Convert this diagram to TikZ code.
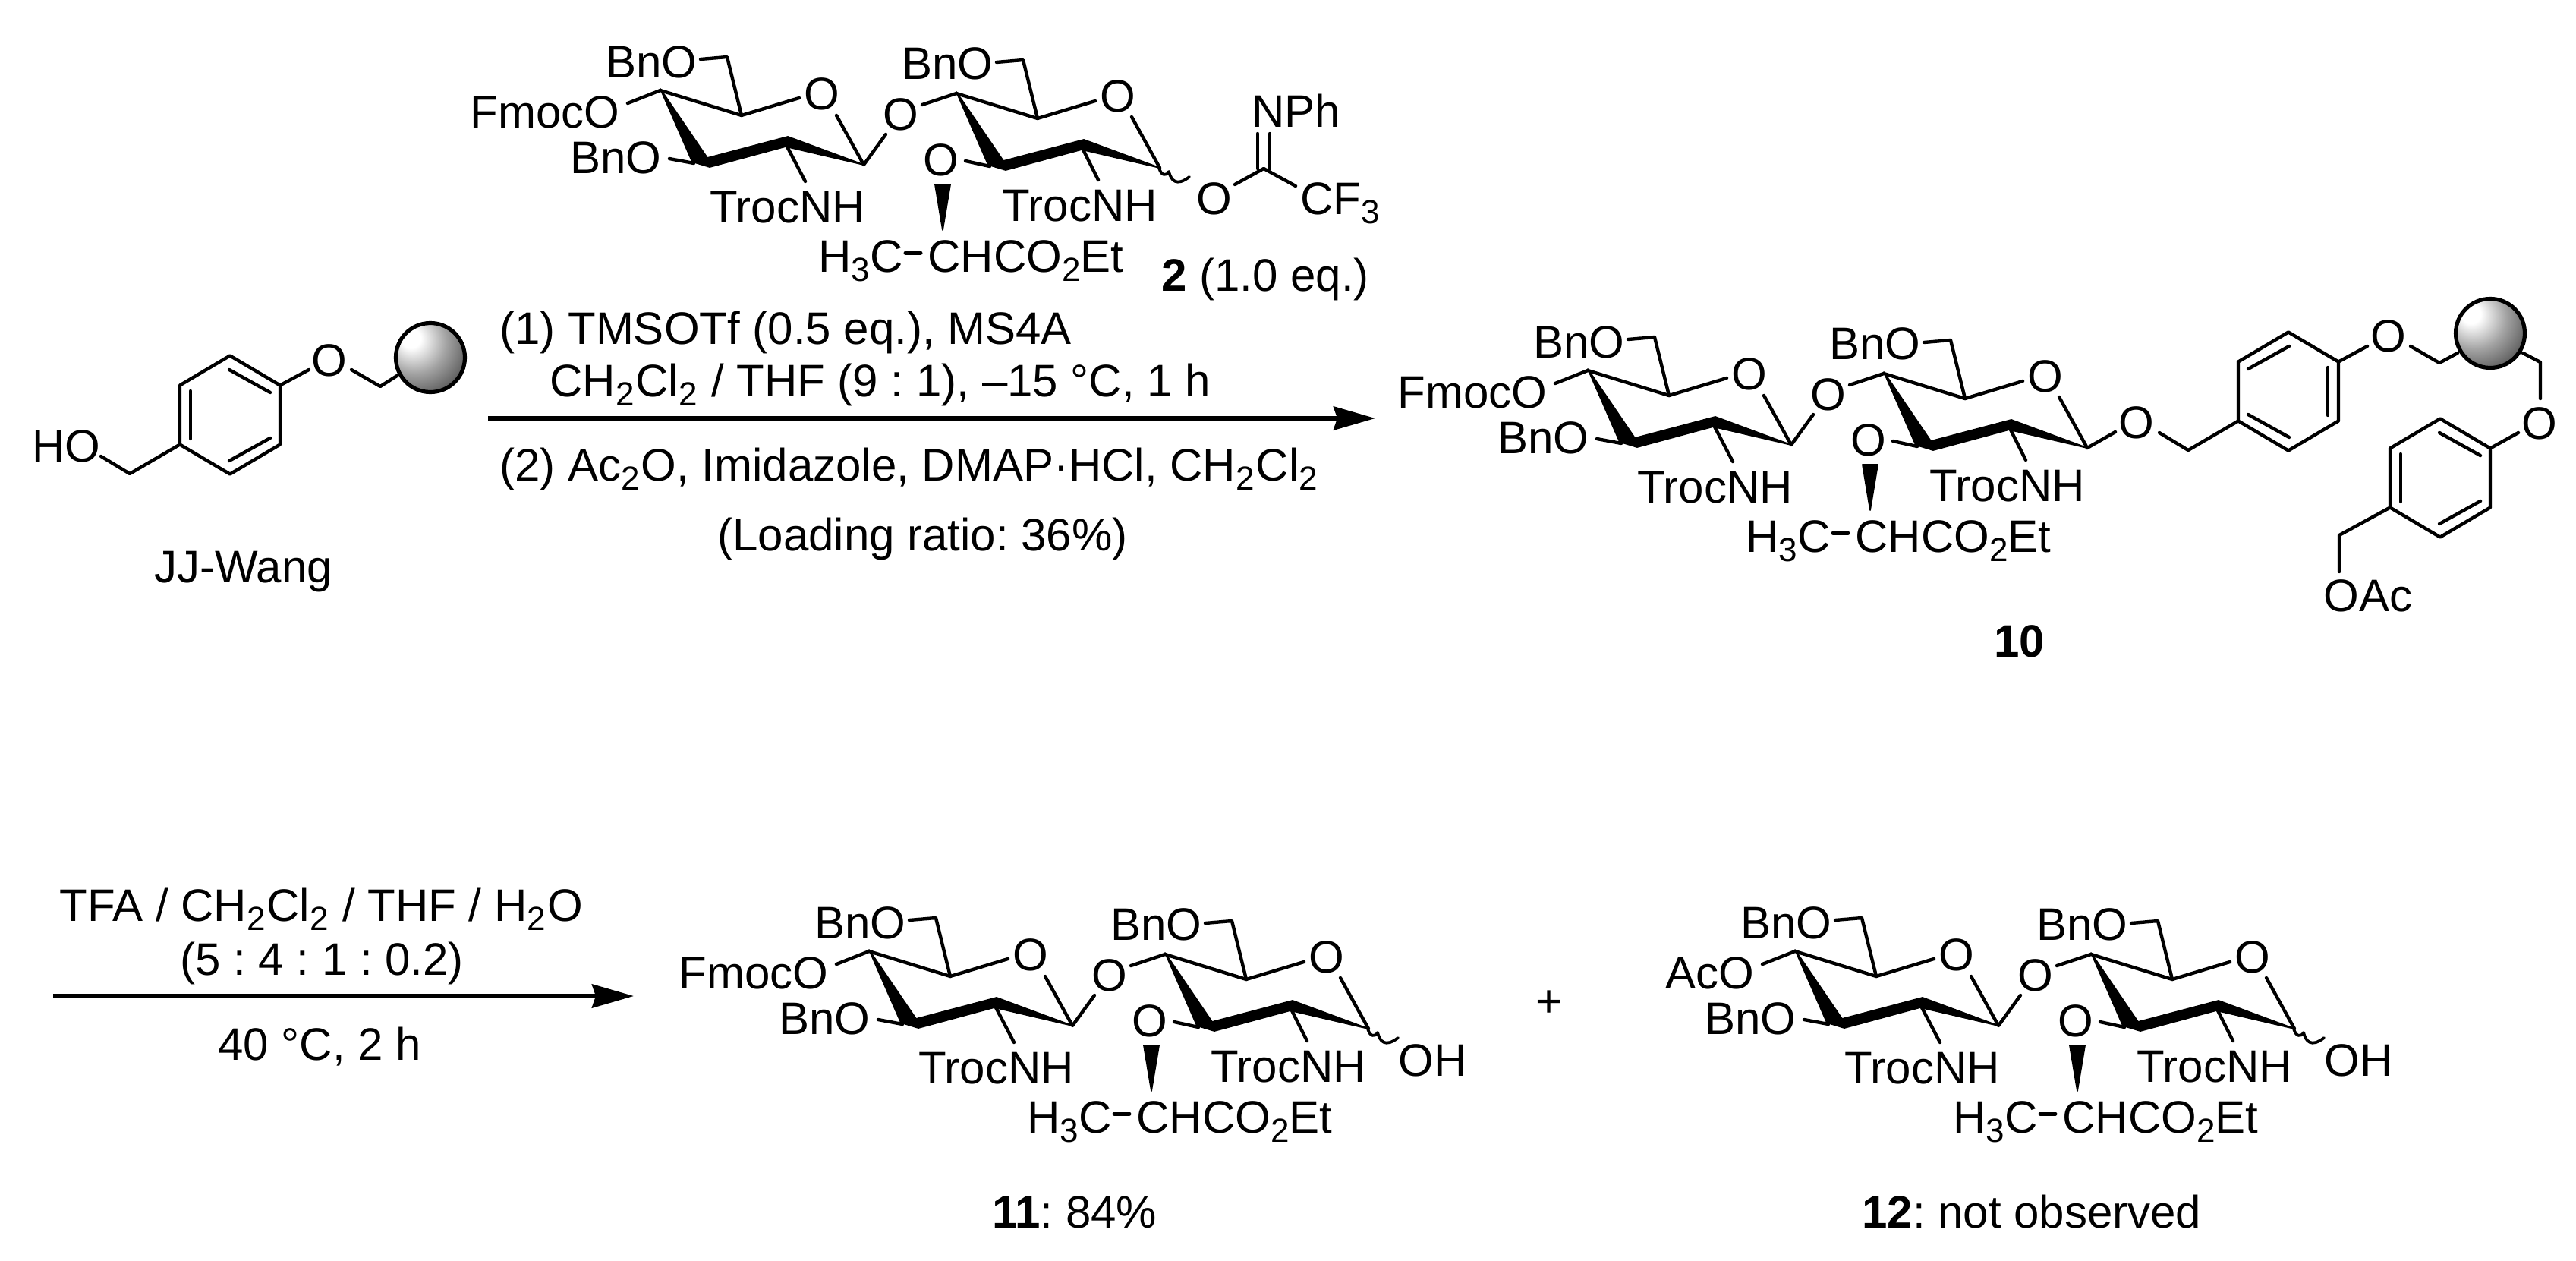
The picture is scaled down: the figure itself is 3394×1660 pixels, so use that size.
\documentclass[tikz,border=0pt]{standalone}
\usepackage{fontspec}
\setmainfont{Liberation Sans}
\usetikzlibrary{arrows.meta}
\newcommand{\fz}{\fontsize{30}{36}\selectfont\frenchspacing}
\newcommand{\sbs}[1]{\raisebox{-6pt}{\fontsize{22}{26}\selectfont #1}}
\newcommand{\sbr}[1]{\sbs{#1}\kern1.0pt\relax}
\pgfdeclareradialshading{bead}{\pgfpoint{-15bp}{15bp}}{color(0bp)=(white); color(7bp)=(white); color(23bp)=(black!36); color(36bp)=(black!60); color(52bp)=(black!90); color(66bp)=(black); color(100bp)=(black)}
\tikzset{
  txt/.style={inner sep=0pt,anchor=base west,font=\fz,text=black},
  txtc/.style={inner sep=0pt,anchor=base,font=\fz,text=black},
  txte/.style={inner sep=0pt,anchor=base east,font=\fz,text=black},
  bond/.style={draw=black,line width=2.2pt,line cap=round,line join=round},
  wedge/.style={fill=black,draw=black,line width=0.9pt,line join=round},
  rxn/.style={draw=black,line width=2.8pt,-{Stealth[length=27.5pt,width=15.5pt,inset=2.5pt]}},
  bead/.style={circle,draw=black,line width=2.6pt,shading=bead,minimum size=45.5pt,inner sep=0pt}
}
% disaccharide: x shift, y shift, prefix, group at C4
\newcommand{\glycan}[4]{%
\begin{scope}[shift={(#1,#2)}]
\coordinate (#3C4) at (870,119);
\coordinate (#3C5) at (977,152);
\coordinate (#3C6) at (958,75);
\coordinate (#3C1) at (1138,217);
\coordinate (#3L4) at (827,136);
\coordinate (#3L6) at (923,78);
\coordinate (#3LO) at (1053,129);
\coordinate (#3RO) at (1102,152);
\coordinate (#3G1) at (1167,177);
\coordinate (#3G2) at (1215,138);
\coordinate (#3N1a) at (1037,193);
\coordinate (#3N1b) at (1061,239);
\coordinate (#3B3a) at (914,215);
\coordinate (#3B3b) at (882,209);
\coordinate (#3Dc) at (1260,123);
\coordinate (#3De) at (1367,156);
\coordinate (#3Df) at (1348,79);
\coordinate (#3Dg) at (1313,82);
\coordinate (#3Dh) at (1443,133);
\coordinate (#3Di) at (1491,154);
\coordinate (#3Dj) at (1528,221);
\coordinate (#3Dk) at (1304,219);
\coordinate (#3Dl) at (1272,212);
\coordinate (#3Dm) at (1427,197);
\coordinate (#3Dn) at (1447,237);
\coordinate (#3Dd1) at (1193,333);
\coordinate (#3Dd2) at (1213,333);
\node[txt] (#3bn6) at (798,102) {BnO};
\node[txte] (#3g4) at (817,168) {#4};
\node[txte] (#3bn3) at (872,228) {BnO};
\node[txtc] (#3ox) at (1083,144) {O};
\node[txtc] (#3og) at (1187,171) {O};
\node[txt] (#3tr) at (935,293) {TrocNH};
\node[txt] (#3bn6b) at (1188,104) {BnO};
\node[txtc] (#3oxb) at (1473,147) {O};
\node[txtc] (#3o3) at (1240,231) {O};
\node[txt] (#3trb) at (1320,291) {TrocNH};
\node[txt] (#3hc) at (1078,358) {H\sbs{3}C};
\node[txt] (#3ch) at (1222,358) {CHCO\sbs{2}Et};
\draw[bond] (#3L4) -- (#3C4) -- (#3C5) -- (#3LO);
\draw[bond] (#3L6) -- (#3C6) -- (#3C5);
\draw[bond] (#3RO) -- (#3C1) -- (#3G1);
\draw[bond] (#3G2) -- (#3Dc) -- (#3De) -- (#3Dh);
\draw[bond] (#3Dg) -- (#3Df) -- (#3De);
\draw[bond] (#3Di) -- (#3Dj);
\draw[bond] (#3N1a) -- (#3N1b);
\draw[bond] (#3Dm) -- (#3Dn);
\draw[bond] (#3B3a) -- (#3B3b);
\draw[bond] (#3Dk) -- (#3Dl);
\draw[bond,line width=2.5pt] (#3Dd1) -- (#3Dd2);
\fill[wedge] (870,117) -- (932,208) -- (1038,180) -- (1138,217) -- (1035,193) -- (935,220) -- (912,213) -- cycle;
\fill[wedge] (1260,121) -- (1322,212) -- (1428,184) -- (1528,221) -- (1425,197) -- (1325,224) -- (1302,217) -- cycle;
\fill[wedge] (1232,243) -- (1252,243) -- (1242,303) -- cycle;
\end{scope}}
% wavy bond
\newcommand{\wavy}[2]{\begin{scope}[shift={(#1,#2)}]
\draw[bond,line width=1.9pt] (1527,221) .. controls (1530,232) and (1537,232) .. (1540,226) .. controls (1543,238) and (1550,246) .. (1567,233);
\end{scope}}
% benzene, doubles top-right, left, bottom-right
\newcommand{\ringA}[3]{\begin{scope}[shift={(#1,#2)}]
\coordinate (#3p1) at (0,-78); \coordinate (#3p2) at (66,-39); \coordinate (#3p3) at (66,39);
\coordinate (#3p4) at (0,78); \coordinate (#3p5) at (-66,39); \coordinate (#3p6) at (-66,-39);
\draw[bond] (#3p1) -- (#3p2) -- (#3p3) -- (#3p4) -- (#3p5) -- (#3p6) -- cycle;
\draw[bond] (-1,-59.5) -- (53,-29.5);
\draw[bond] (-52,-31.5) -- (-52,31.5);
\draw[bond] (-1,60.5) -- (53,30.5);
\end{scope}}
% benzene, doubles top-left, right, bottom-left
\newcommand{\ringB}[3]{\begin{scope}[shift={(#1,#2)}]
\coordinate (#3p1) at (0,-78); \coordinate (#3p2) at (66,-39); \coordinate (#3p3) at (66,39);
\coordinate (#3p4) at (0,78); \coordinate (#3p5) at (-66,39); \coordinate (#3p6) at (-66,-39);
\draw[bond] (#3p1) -- (#3p2) -- (#3p3) -- (#3p4) -- (#3p5) -- (#3p6) -- cycle;
\draw[bond] (1,-59.5) -- (-53,-29.5);
\draw[bond] (52,-31.5) -- (52,31.5);
\draw[bond] (1,60.5) -- (-53,30.5);
\end{scope}}
\begin{document}
\begin{tikzpicture}[x=0.5pt,y=-0.5pt]
\useasboundingbox (0,0) rectangle (3394,1660);
% JJ-Wang resin
\ringA{303}{546.5}{ra}
\node[txt] (ho) at (42,608) {HO};
\node[txtc] (oa) at (434,495) {O};
\node[txt] (jj) at (203,767) {JJ-Wang};
\coordinate (ha) at (133,601); \coordinate (hb) at (171,624);
\coordinate (oa1) at (407,487); \coordinate (oa2) at (463,487);
\coordinate (oa3) at (501,509); \coordinate (oa4) at (523,495);
\draw[bond] (ha) -- (hb) -- (rap5);
\draw[bond] (rap2) -- (oa1);
\draw[bond] (oa2) -- (oa3) -- (oa4);
\node[bead] (bead1) at (567,471) {};
% donor 2
\glycan{0}{0}{d}{FmocO}
\wavy{0}{0}
\node[txtc] (oi) at (1600,282) {O};
\node[txt] (nph) at (1649,167) {NPh};
\node[txt] (cf) at (1713,282) {CF\sbs{3}};
\node[txt] (lab2) at (1530,383) {\textbf{2} (1.0 eq.)};
\coordinate (ic) at (1665,222); \coordinate (ioe) at (1627,243); \coordinate (ife) at (1707,245);
\coordinate (in1) at (1657,176); \coordinate (in2) at (1657,222);
\coordinate (in3) at (1673,176); \coordinate (in4) at (1673,222);
\draw[bond] (ioe) -- (ic) -- (ife);
\draw[bond] (in1) -- (in2);
\draw[bond] (in3) -- (in4);
% first reaction
\coordinate (a1s) at (643,551); \coordinate (a1e) at (1812,551);
\draw[rxn] (a1s) -- (a1e);
\node[txt] (r1) at (658,453) {(1) TMSOTf (0.5 eq.), MS4A};
\node[txt] (r2) at (724,522) {CH\sbr{2}Cl\sbr{2} / THF (9 : 1), –15 °C, 1 h};
\node[txt] (r3) at (658,633) {(2) Ac\sbr{2}O, Imidazole, DMAP·HCl, CH\sbr{2}Cl\sbs{2}};
\node[txt] (r4) at (945,725) {(Loading ratio: 36\%)};
% compound 10
\glycan{1222}{369}{e}{FmocO}
\node[txtc] (oe) at (2815,577) {O};
\coordinate (e1) at (2787,569); \coordinate (e2) at (2845,570); \coordinate (e3) at (2883,593);
\draw[bond] (eDj) -- (e1);
\ringB{3015}{515.5}{rb}
\draw[bond] (e2) -- (e3) -- (rbp5);
\node[txtc] (ob) at (3147,463) {O};
\coordinate (b1) at (3119,456); \coordinate (b2) at (3176,456); \coordinate (b3) at (3214,478); \coordinate (b4) at (3238,465);
\draw[bond] (rbp2) -- (b1);
\draw[bond] (b2) -- (b3) -- (b4);
\coordinate (c1) at (3324,465); \coordinate (c2) at (3347,477); \coordinate (c3) at (3347,525);
\draw[bond] (c1) -- (c2) -- (c3);
\node[bead] (bead2) at (3281,439) {};
\node[txtc] (oc) at (3346,578) {O};
\ringA{3215}{629.5}{rc}
\coordinate (c4) at (3318,570);
\draw[bond] (c4) -- (rcp2);
\coordinate (c5) at (3082,705); \coordinate (c6) at (3082,753);
\draw[bond] (rcp5) -- (c5) -- (c6);
\node[txt] (oac) at (3061,805) {OAc};
\node[txt] (lab10) at (2627,865) {\textbf{10}};
% second reaction
\coordinate (a2s) at (70,1312); \coordinate (a2e) at (835,1312);
\draw[rxn] (a2s) -- (a2e);
\node[txt] (s1) at (78,1213) {TFA / CH\sbr{2}Cl\sbr{2} / THF / H\sbr{2}O};
\node[txt] (s2) at (237,1284) {(5 : 4 : 1 : 0.2)};
\node[txt] (s3) at (287,1396) {40 °C, 2 h};
% compound 11
\glycan{275}{1134}{f}{FmocO}
\wavy{275}{1134}
\node[txt] (oh1) at (1842,1417) {OH};
\node[txt] (lab11) at (1307,1617) {\textbf{11}: 84\%};
% plus
\node[txtc] (plus) at (2041,1339) {+};
% compound 12
\glycan{1495}{1134}{g}{AcO}
\wavy{1495}{1134}
\node[txt] (oh2) at (3062,1417) {OH};
\node[txt] (lab12) at (2453,1617) {\textbf{12}: not observed};
\end{tikzpicture}
\end{document}
